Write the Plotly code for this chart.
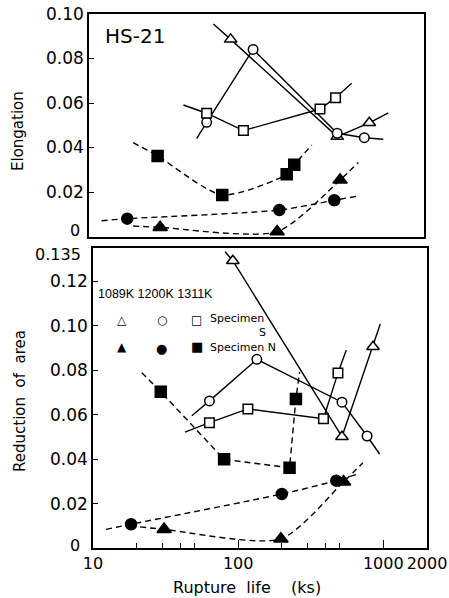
import math
import plotly.graph_objects as go

# ---------------- data ----------------
# Top panel: Elongation vs rupture life (ks)
el_S1089_x = [94, 507, 842];       el_S1089_y = [0.0886, 0.0449, 0.0511]
el_S1089_cx = [71.5, 94, 507, 842, 1138]; el_S1089_cy = [0.0955, 0.0886, 0.0449, 0.0511, 0.0556]
el_S1200_x = [64.3, 134, 507, 778]; el_S1200_y = [0.0513, 0.0841, 0.0464, 0.0444]
el_S1200_cx = [55, 64.3, 134, 507, 778, 1050]; el_S1200_cy = [0.0441, 0.0513, 0.0841, 0.0464, 0.0444, 0.0437]
el_S1311_x = [64.3, 115, 386, 494]; el_S1311_y = [0.0554, 0.0476, 0.0573, 0.0624]
el_S1311_cx = [44.5, 64.3, 115, 386, 494, 637]; el_S1311_cy = [0.0591, 0.0554, 0.0476, 0.0573, 0.0624, 0.0689]
el_N1089_x = [30.8, 196, 530];     el_N1089_y = [0.0041, 0.0022, 0.0254]
el_N1089_cx = [20.1, 30.8, 196, 530, 707]; el_N1089_cy = [0.0047, 0.0041, 0.0022, 0.0254, 0.0333]
el_N1200_x = [18.3, 203, 484];     el_N1200_y = [0.0080, 0.0119, 0.0163]
el_N1200_cx = [12.2, 18.3, 203, 484, 707]; el_N1200_cy = [0.0071, 0.0080, 0.0119, 0.0163, 0.0182]
el_N1311_x = [29.6, 82.3, 228, 257]; el_N1311_y = [0.0362, 0.0187, 0.0280, 0.0323]
el_N1311_cx = [20.1, 29.6, 82.3, 228, 257, 339]; el_N1311_cy = [0.0422, 0.0362, 0.0187, 0.0280, 0.0323, 0.0411]

# Bottom panel: Reduction of area vs rupture life (ks)
ra_S1089_x = [91.9, 519, 849];     ra_S1089_y = [0.1293, 0.0501, 0.0906]
ra_S1089_cx = [81.3, 91.9, 519, 849, 953]; ra_S1089_cy = [0.1333, 0.1293, 0.0501, 0.0906, 0.1008]
ra_S1200_x = [63.4, 134.5, 519, 773]; ra_S1200_y = [0.0662, 0.0849, 0.0656, 0.0504]
ra_S1200_cx = [48, 63.4, 134.5, 519, 773, 942]; ra_S1200_cy = [0.0595, 0.0662, 0.0849, 0.0656, 0.0504, 0.0423]
ra_S1311_x = [63.4, 116.7, 387, 487]; ra_S1311_y = [0.0564, 0.0626, 0.0582, 0.0788]
ra_S1311_cx = [43, 63.4, 116.7, 387, 487, 556]; ra_S1311_cy = [0.0521, 0.0564, 0.0626, 0.0582, 0.0788, 0.0891]
ra_N1089_x = [30.9, 197, 532];     ra_N1089_y = [0.0084, 0.0041, 0.0298]
ra_N1089_cx = [21.1, 30.9, 197, 532, 724]; ra_N1089_cy = [0.0095, 0.0084, 0.0041, 0.0298, 0.0384]
ra_N1200_x = [18.3, 200, 474];     ra_N1200_y = [0.0107, 0.0243, 0.0303]
ra_N1200_cx = [12.3, 18.3, 200, 474, 687]; ra_N1200_cy = [0.0084, 0.0107, 0.0243, 0.0303, 0.0336]
ra_N1311_x = [29.3, 80, 226, 250]; ra_N1311_y = [0.0703, 0.0399, 0.0361, 0.0671]
ra_N1311_cx = [21.7, 29.3, 80, 226, 250, 265]; ra_N1311_cy = [0.0789, 0.0703, 0.0399, 0.0361, 0.0671, 0.0793]

el_ticks = [0, 0.02, 0.04, 0.06, 0.08, 0.10]
el_ticktext = ["", "0.02", "0.04", "0.06", "0.08", "0.10"]   # "0" drawn separately
ra_ticks = [0, 0.02, 0.04, 0.06, 0.08, 0.10, 0.12, 0.135]
ra_ticktext = ["", "0.02", "0.04", "0.06", "0.08", "0.10", "0.12", ""]  # "0", "0.135" drawn separately
x_ticks = [10, 100, 1000, 2000]
x_ticktext = ["10", "100", "1000", "2000"]
x_minor = [20, 30, 40, 50, 200, 300, 400, 500]

# ---------------- figure ----------------
fig = go.Figure()
BLACK = "black"

def add_series(px, py, cx, cy, symbol, filled, dashed, xa, ya, spline=False):
    fig.add_trace(go.Scatter(
        x=cx, y=cy, mode="lines", xaxis=xa, yaxis=ya, showlegend=False,
        line=dict(color=BLACK, width=1.4, dash="6px,4px" if dashed else "solid",
                  shape="spline" if spline else "linear", smoothing=0.7),
        hoverinfo="skip"))
    size = {"triangle-up": 11, "circle": 9.5, "square": 9.5}[symbol]
    if filled:
        size += 1.5
    fig.add_trace(go.Scatter(
        x=px, y=py, mode="markers", xaxis=xa, yaxis=ya, showlegend=False,
        cliponaxis=False,
        marker=dict(symbol=symbol, size=size,
                    color=BLACK if filled else "white",
                    line=dict(color=BLACK, width=1.5))))

# top panel
add_series(el_S1089_x, el_S1089_y, el_S1089_cx, el_S1089_cy, "triangle-up", False, False, "x", "y")
add_series(el_S1200_x, el_S1200_y, el_S1200_cx, el_S1200_cy, "circle", False, False, "x", "y")
add_series(el_S1311_x, el_S1311_y, el_S1311_cx, el_S1311_cy, "square", False, False, "x", "y")
add_series(el_N1089_x, el_N1089_y, el_N1089_cx, el_N1089_cy, "triangle-up", True, True, "x", "y", True)
add_series(el_N1200_x, el_N1200_y, el_N1200_cx, el_N1200_cy, "circle", True, True, "x", "y", True)
add_series(el_N1311_x, el_N1311_y, el_N1311_cx, el_N1311_cy, "square", True, True, "x", "y", True)
# bottom panel
add_series(ra_S1089_x, ra_S1089_y, ra_S1089_cx, ra_S1089_cy, "triangle-up", False, False, "x2", "y2")
add_series(ra_S1200_x, ra_S1200_y, ra_S1200_cx, ra_S1200_cy, "circle", False, False, "x2", "y2")
add_series(ra_S1311_x, ra_S1311_y, ra_S1311_cx, ra_S1311_cy, "square", False, False, "x2", "y2")
add_series(ra_N1089_x, ra_N1089_y, ra_N1089_cx, ra_N1089_cy, "triangle-up", True, True, "x2", "y2", True)
add_series(ra_N1200_x, ra_N1200_y, ra_N1200_cx, ra_N1200_cy, "circle", True, True, "x2", "y2", True)
add_series(ra_N1311_x, ra_N1311_y, ra_N1311_cx, ra_N1311_cy, "square", True, True, "x2", "y2")

W, H = 449, 598
def px2x(p): return p / W
def py2y(p): return (H - p) / H

TICK_SIZE = 17
tickfont = dict(family="DejaVu Sans", size=TICK_SIZE, color=BLACK)
xrange_log = [1, math.log10(2000)]
common_axis = dict(showline=True, linecolor=BLACK, linewidth=1.5, mirror=True,
                   showgrid=False, zeroline=False, tickcolor=BLACK, automargin=False)

fig.update_layout(
    width=W, height=H, margin=dict(l=0, r=0, t=0, b=0, pad=0, autoexpand=False),
    paper_bgcolor="white", plot_bgcolor="white",
    font=dict(family="DejaVu Sans", color=BLACK),
    xaxis=dict(type="log", range=xrange_log, domain=[px2x(89), px2x(424)], anchor="y",
               showticklabels=False, ticks="", **common_axis),
    yaxis=dict(range=[0, 0.10], domain=[py2y(236.5), py2y(14)], anchor="x",
               tickvals=el_ticks, ticktext=el_ticktext, ticks="inside", ticklen=5, tickwidth=1.3,
               tickfont=tickfont, **common_axis),
    xaxis2=dict(type="log", range=xrange_log, domain=[px2x(93), px2x(427)], anchor="y2",
                tickvals=x_ticks, ticktext=x_ticktext, ticks="inside", ticklen=8, tickwidth=1.3,
                tickfont=dict(family="DejaVu Sans", size=16, color=BLACK), tickangle=0,
                minor=dict(tickvals=x_minor, ticklen=5, tickwidth=1.2, tickcolor=BLACK, ticks="inside"),
                **common_axis),
    yaxis2=dict(range=[0, 0.135], domain=[py2y(548), py2y(248)], anchor="x2",
                tickvals=ra_ticks, ticktext=ra_ticktext, ticks="inside", ticklen=5, tickwidth=1.3,
                tickfont=tickfont, **common_axis),
)

ann = []
def text(s, x, y, size, xanchor="center", textangle=0, family="DejaVu Sans", align="center"):
    ann.append(dict(text=s, x=px2x(x), y=py2y(y), xref="paper", yref="paper",
                    xanchor=xanchor, yanchor="middle", showarrow=False, align=align,
                    textangle=textangle, font=dict(family=family, size=size, color=BLACK)))

# the crowded tick labels at the panel junctions
text("0", 82, 231, TICK_SIZE - 1, xanchor="right")
text("0.135", 83, 254, TICK_SIZE - 1, xanchor="right")
text("0", 82, 545, TICK_SIZE - 1, xanchor="right")

text("HS-21", 103, 36, 20, xanchor="left")
text("Elongation", 18, 131, 15, textangle=-90)
text("Reduction  of  area", 20, 401, 15, textangle=-90)
text("Rupture  life    (ks)", 247, 587, 16)
text("1089K 1200K 1311K", 96, 294, 12.5, xanchor="left", family="Liberation Sans")
text("△", 121.7, 320, 12); text("○", 161.7, 320, 12); text("□", 196.7, 320, 12)
text("▲", 121.7, 347, 12); text("●", 161.7, 349, 13); text("■", 196.7, 347, 13)
nb = "\u00a0"
text("Specimen<br>" + nb * 14 + "S<br>Specimen N", 208, 333, 11, xanchor="left", align="left")
fig.update_layout(annotations=ann)

fig.write_html("out.html", config={"displayModeBar": False},
               post_script="document.body.style.margin='0px';document.body.style.overflow='hidden';")
